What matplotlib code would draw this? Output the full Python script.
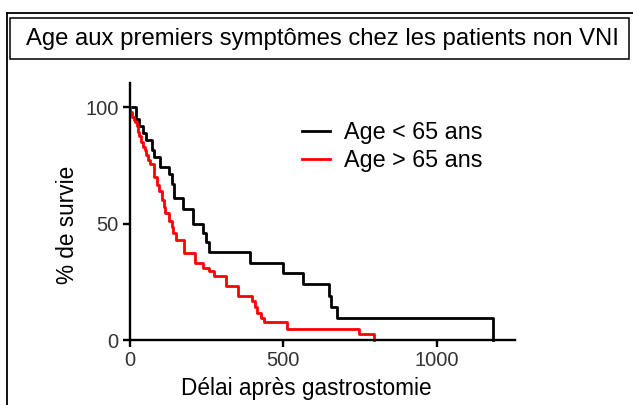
import matplotlib
matplotlib.use("Agg")
import matplotlib.pyplot as plt
from matplotlib.patches import Rectangle
from matplotlib.lines import Line2D

plt.rcParams['font.family'] = ['Liberation Sans', 'DejaVu Sans']

# survival curves (time of drop, % survival after the drop)
young_t = [0, 21, 32, 44, 54, 72, 81, 99, 129, 139, 146, 175, 205, 238, 250, 259,
           392, 498, 565, 650, 656, 675, 1183]
young_s = [100, 95, 92, 89, 85.8, 81.8, 78.7, 74.4, 71.2, 67.2, 60.8, 56.4, 49.9,
           46, 42, 37.7, 33.2, 28.9, 24.1, 18.8, 14.2, 9.4, 0]

old_t = [0, 3, 8, 14, 19, 24, 28, 32, 38, 43, 49, 54, 60, 68, 80, 88, 97, 105, 111,
         117, 129, 137, 143, 151, 177, 212, 238, 259, 275, 314, 354, 397, 408, 415,
         426, 437, 513, 747, 795]
old_s = [100, 98, 96, 94.5, 93.5, 92, 89.5, 87.5, 85, 83, 81.5, 79.5, 77.5, 75.5,
         70, 66.5, 64, 60, 57, 54.5, 51, 48.5, 46, 43, 37.5, 33.2, 31, 29.5, 27.3,
         23.2, 18.9, 16.9, 14.3, 11.5, 9.3, 7.6, 4.7, 2.4, 0]

labels = ['Age < 65 ans', 'Age > 65 ans']
colors = ['black', '#ff0000']
x_ticks = [0, 500, 1000]
y_ticks = [0, 50, 100]

W, H = 633, 405


def fx(px):
    return px / W


def fy(py):
    return 1 - py / H


fig = plt.figure(figsize=(W / 100, H / 100), dpi=100)

# frame and title box
fig.add_artist(Line2D([fx(7), fx(7)], [fy(13), fy(405)], color='black', lw=1.3))
fig.add_artist(Line2D([fx(7), fx(633)], [fy(13), fy(13)], color='black', lw=1.3))
fig.add_artist(Rectangle((fx(10), fy(59)), fx(629) - fx(10), fy(18) - fy(59),
                         fill=False, edgecolor='black', lw=1.1))
fig.text(fx(322), fy(39), 'Age aux premiers symptômes chez les patients non VNI',
         ha='center', va='center', fontsize=17.2)

ax = fig.add_axes([fx(129.5), fy(340), fx(515) - fx(129.5), fy(83) - fy(340)])

ax.step(young_t, young_s, where='post', color=colors[0], lw=2, label=labels[0], clip_on=False)
ax.step(old_t, old_s, where='post', color=colors[1], lw=2, label=labels[1], clip_on=False)

ax.set_xlim(0, 1253)
ax.set_ylim(0, 110.4)
ax.set_xticks(x_ticks)
ax.set_yticks(y_ticks)
for s in ['top', 'right']:
    ax.spines[s].set_visible(False)
for s in ['left', 'bottom']:
    ax.spines[s].set_linewidth(1.7)
ax.tick_params(width=1.7, length=5, pad=3, labelsize=14.5, labelcolor='#333333')

ax.set_xlabel('Délai après gastrostomie', fontsize=16.3, va='center')
ax.set_ylabel('% de survie', fontsize=16.3, va='center')
ax.xaxis.set_label_coords(0.458, -0.19)
ax.yaxis.set_label_coords(-0.162, 0.447)

ax.legend(loc='upper left', bbox_to_anchor=(0.447, 0.852), frameon=False,
          fontsize=16.8, handlelength=1.19, handletextpad=0.63, labelspacing=0.2,
          borderpad=0, borderaxespad=0)

fig.savefig('out.png', dpi=100)
